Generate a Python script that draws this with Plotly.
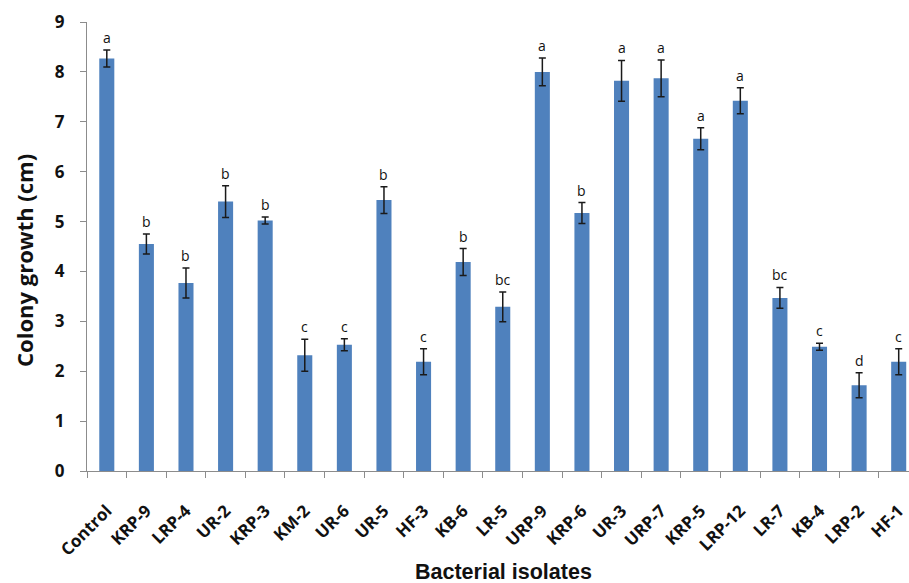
import plotly.graph_objects as go

# Mean colony growth (cm) per treatment with standard errors and significance letters
isolates = ["Control", "KRP-9", "LRP-4", "UR-2", "KRP-3", "KM-2", "UR-6", "UR-5", "HF-3",
            "KB-6", "LR-5", "URP-9", "KRP-6", "UR-3", "URP-7", "KRP-5", "LRP-12", "LR-7",
            "KB-4", "LRP-2", "HF-1"]
growth = [8.27, 4.55, 3.77, 5.40, 5.02, 2.32, 2.53, 5.43, 2.19, 4.19, 3.29, 8.00, 5.17,
          7.82, 7.87, 6.66, 7.42, 3.47, 2.49, 1.72, 2.19]
errors = [0.17, 0.20, 0.30, 0.32, 0.07, 0.32, 0.12, 0.27, 0.26, 0.27, 0.30, 0.28, 0.21,
          0.41, 0.37, 0.22, 0.26, 0.21, 0.07, 0.25, 0.26]
letters = ["a", "b", "b", "b", "b", "c", "c", "b", "c", "b", "bc", "a", "b", "a", "a", "a",
           "a", "bc", "c", "d", "c"]
y_ticks = [0, 1, 2, 3, 4, 5, 6, 7, 8, 9]

BAR = "#4F81BD"
AXIS = "#8C8C8C"
INK = "#111111"

fig = go.Figure()
fig.add_trace(go.Bar(
    x=isolates,
    y=growth,
    marker=dict(color=BAR, line=dict(width=0)),
    width=0.38,
    error_y=dict(type="data", array=errors, visible=True,
                 color="#1a1a1a", thickness=1.5, width=3.5),
    showlegend=False,
))

# significance letters above the error bars
for name, val, err, lab in zip(isolates, growth, errors, letters):
    fig.add_annotation(
        x=name, y=val + err, text=lab, showarrow=False,
        yanchor="bottom", yshift=1,
        font=dict(family="Open Sans", size=14, color=INK),
    )

# axis titles
fig.add_annotation(
    xref="paper", yref="paper", x=0.507, y=-0.225,
    text="<b>Bacterial isolates</b>", showarrow=False,
    xanchor="center", yanchor="middle",
    font=dict(family="Liberation Sans", size=21.5, color=INK),
)
fig.add_annotation(
    xref="paper", yref="paper", x=-0.0766, y=0.468,
    text="<b>Colony growth (cm)</b>", showarrow=False, textangle=-90,
    xanchor="center", yanchor="middle",
    font=dict(family="Open Sans", size=22, color=INK),
)

fig.update_layout(
    width=909, height=583,
    margin=dict(l=87, r=0, t=22, b=112),
    plot_bgcolor="white", paper_bgcolor="white",
    xaxis=dict(
        range=[-0.5, 20.26],
        showline=True, linecolor=AXIS, linewidth=1.2,
        ticks="outside", tickson="boundaries", ticklen=6, tickcolor=AXIS,
        tickangle=-45, ticklabelstandoff=22,
        tickfont=dict(family="Open Sans", size=17, color=INK, weight="bold"),
        showgrid=False, fixedrange=True, automargin=False,
    ),
    yaxis=dict(
        range=[0, 9], tickvals=y_ticks,
        showline=True, linecolor=AXIS, linewidth=1.2,
        ticks="outside", ticklen=6, tickcolor=AXIS,
        ticklabelstandoff=12,
        tickfont=dict(family="Open Sans", size=17, color=INK, weight="bold"),
        showgrid=False, zeroline=False, fixedrange=True, automargin=False,
    ),
)

fig.write_html("out.html")
